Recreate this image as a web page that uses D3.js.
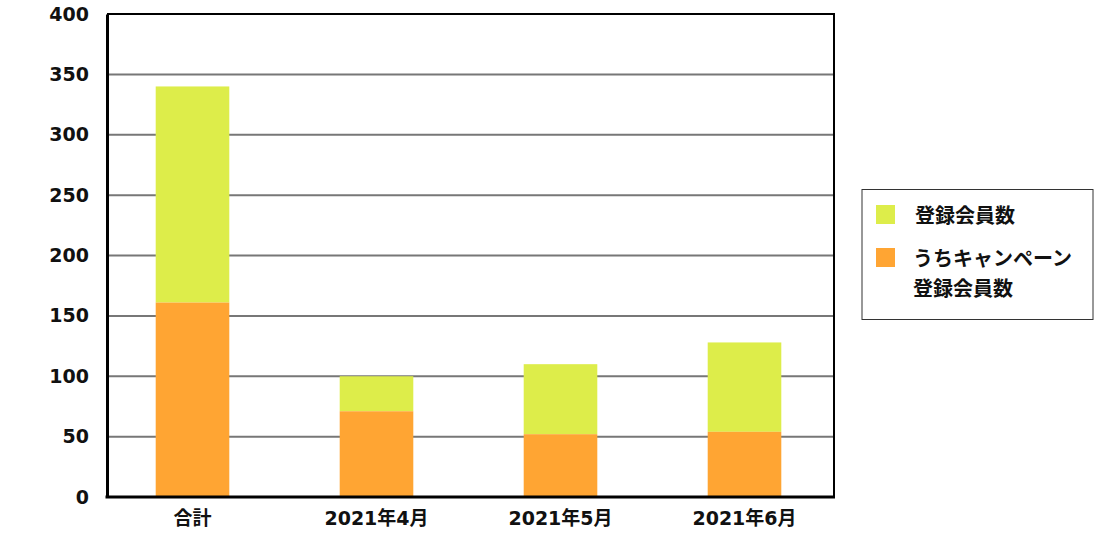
<!DOCTYPE html>
<html><head><meta charset="utf-8">
<script src="https://cdn.jsdelivr.net/npm/d3@7"></script>
<style>body{margin:0;background:#fff}</style>
</head><body>
<svg id="c" width="1117" height="557"></svg>
<script>
const categories = ["合計", "2021年4月", "2021年5月", "2021年6月"];
const totalMembers = [340, 100, 110, 128];
const campaignMembers = [161, 71, 52, 54];
const yTicks = [0, 50, 100, 150, 200, 250, 300, 350, 400];
const legendLabels = [["登録会員数"], ["うちキャンペーン", "登録会員数"]];
const colors = ["#dded4a", "#ffa533"];

const svg = d3.select("#c");
const L = 107, R = 834, T = 14, B = 497;
const font = "'DejaVu Sans','Noto Sans CJK JP',sans-serif";
const x = d3.scaleBand().domain(categories).range([100.5, 836.5]).paddingInner(0.6).paddingOuter(0.3);
const y = d3.scaleLinear().domain([0, 400]).range([B, T]);

// gridlines
svg.append("g").selectAll("line").data(yTicks.filter(d => d > 0 && d < 400)).join("line")
  .attr("x1", L).attr("x2", R).attr("y1", d => y(d)).attr("y2", d => y(d))
  .attr("stroke", "#777").attr("stroke-width", 2);

// bars
const data = categories.map((c, i) => ({c, camp: campaignMembers[i], total: totalMembers[i]}));
svg.append("g").selectAll("rect").data(data).join("rect")
  .attr("x", d => x(d.c)).attr("width", x.bandwidth())
  .attr("y", d => y(d.total)).attr("height", d => y(d.camp) - y(d.total))
  .attr("fill", colors[0]);
svg.append("g").selectAll("rect").data(data).join("rect")
  .attr("x", d => x(d.c)).attr("width", x.bandwidth())
  .attr("y", d => y(d.camp)).attr("height", d => B - y(d.camp))
  .attr("fill", colors[1]);

// frame
svg.append("line").attr("x1", L).attr("x2", R + 1).attr("y1", T).attr("y2", T).attr("stroke", "#000").attr("stroke-width", 2);
svg.append("line").attr("x1", R).attr("x2", R).attr("y1", T).attr("y2", B).attr("stroke", "#000").attr("stroke-width", 2);

// axes
const yAxis = svg.append("g").attr("transform", `translate(${L},0)`)
  .call(d3.axisLeft(y).tickValues(yTicks).tickSize(0).tickPadding(18));
yAxis.select(".domain").attr("stroke", "#000").attr("stroke-width", 3);
yAxis.selectAll("text").attr("font-family", font).attr("font-weight", "bold").attr("font-size", 19).attr("fill", "#111");

const xAxis = svg.append("g").attr("transform", `translate(0,${B})`)
  .call(d3.axisBottom(x).tickSize(0).tickPadding(15));
xAxis.select(".domain").attr("stroke", "#000").attr("stroke-width", 3).attr("d", `M${L - 1.5},0H${R + 1}`);
xAxis.selectAll("text").attr("font-family", font).attr("font-weight", "bold").attr("font-size", 19).attr("fill", "#111");

// legend
const lg = svg.append("g");
lg.append("rect").attr("x", 862).attr("y", 189.5).attr("width", 231).attr("height", 130)
  .attr("fill", "#fff").attr("stroke", "#333").attr("stroke-width", 1);
const legY = [205, 248];
legendLabels.forEach((lines, i) => {
  lg.append("rect").attr("x", 876).attr("y", legY[i]).attr("width", 19).attr("height", 19).attr("fill", colors[i]);
  lines.forEach((t, j) => {
    lg.append("text").attr("x", i === 0 ? 915 : 913).attr("y", legY[i] + 18 + j * 30)
      .attr("font-family", font).attr("font-weight", "bold").attr("font-size", 20).attr("fill", "#111").text(t);
  });
});
</script>
</body></html>
